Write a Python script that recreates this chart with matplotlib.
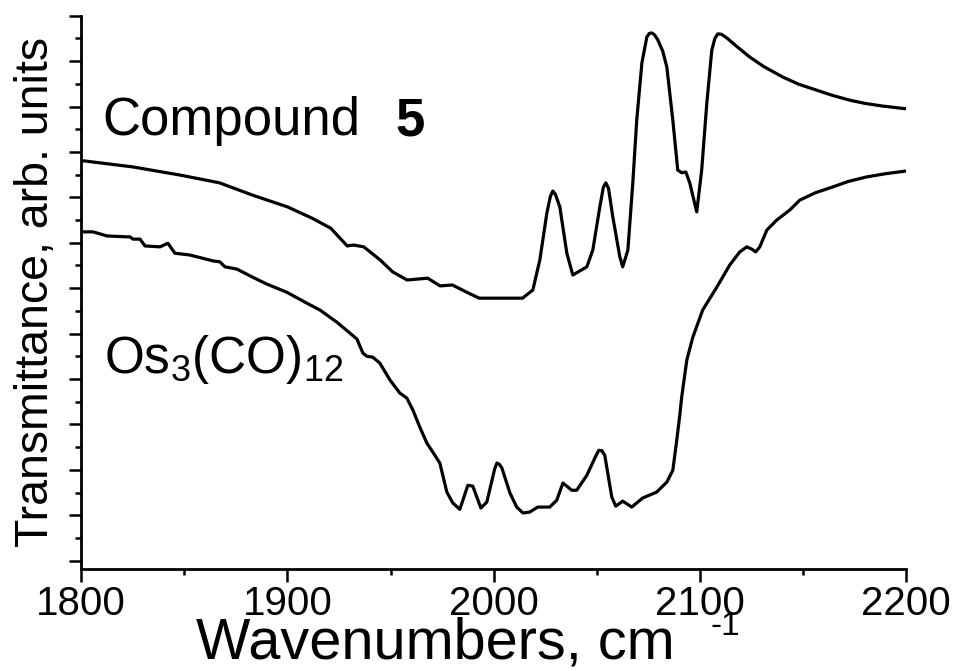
import matplotlib
matplotlib.use("Agg")
import matplotlib.pyplot as plt
from matplotlib.ticker import MultipleLocator

plt.rcParams['font.family'] = 'Liberation Sans'
plt.rcParams['mathtext.fontset'] = 'custom'
plt.rcParams['mathtext.rm'] = 'Liberation Sans'
plt.rcParams['mathtext.it'] = 'Liberation Sans:italic'
plt.rcParams['mathtext.bf'] = 'Liberation Sans:bold'

# IR spectrum of compound 5 (upper trace)
wn_cpd5 = [1800, 1825, 1848, 1867, 1883, 1900, 1912, 1921, 1929, 1932, 1937, 1945,
           1951, 1958, 1968, 1974, 1980, 1987, 1993, 2003, 2014, 2019, 2022.4, 2025.8,
           2027.5, 2028.7, 2030.0, 2032.1, 2035.5, 2038.4, 2041.8, 2045.2, 2048.1,
           2051.5, 2053.2, 2054.4, 2055.7, 2057.8, 2061.2, 2062.6, 2065.1, 2067.5,
           2069.4, 2071.9, 2074.3, 2075.5, 2076.7, 2078.0, 2079.6, 2082.0, 2084.0,
           2086.9, 2089.3, 2091.3, 2093.2, 2095.1, 2098.5, 2100.9, 2103.4, 2105.8,
           2107.3, 2108.7, 2110.5, 2113.1, 2118.0, 2124.2, 2131.0, 2140.2, 2148.0,
           2156.7, 2164.0, 2172.7, 2180.0, 2188.7, 2200]
tr_cpd5 = [8.81, 8.67, 8.49, 8.32, 8.05, 7.79, 7.54, 7.32, 6.93, 6.95, 6.91, 6.62,
           6.36, 6.18, 6.22, 6.05, 6.07, 5.91, 5.78, 5.78, 5.78, 5.96, 6.62, 7.65,
           8.02, 8.14, 8.06, 7.79, 6.77, 6.29, 6.38, 6.47, 6.84,
           7.79, 8.22, 8.32, 8.20, 7.57, 6.69, 6.47, 6.84, 8.32,
           9.70, 10.96, 11.53, 11.61, 11.62, 11.58, 11.47, 11.22, 10.87,
           9.70, 8.60, 8.54, 8.56, 8.32, 7.68, 8.60, 10.08, 11.24,
           11.50, 11.60, 11.59, 11.51, 11.32, 11.09, 10.88, 10.65, 10.49,
           10.36, 10.25, 10.14, 10.07, 10.01, 9.95]

# IR spectrum of Os3(CO)12 (lower trace)
wn_os3 = [1800, 1805.7, 1812.5, 1822.2, 1823.6, 1825.1, 1828.5, 1830.9, 1838.2, 1842.0,
          1845.4, 1852.7, 1863.9, 1867.2, 1869.7, 1875.5, 1883.2, 1890.0, 1899.7, 1909.4,
          1915.7, 1924.0, 1930.3, 1933.7, 1936.6, 1938.5, 1941.4, 1944.8, 1949.7, 1954.5,
          1957.9, 1960.8, 1964.2, 1967.6, 1970.5, 1973.9, 1977.3, 1980.2, 1983.6, 1987.5,
          1989.9, 1993.8, 1996.7, 2000.5, 2001.6, 2002.8, 2004.0, 2007.9, 2011.2, 2014.2,
          2017.5, 2021.4, 2027.2, 2030.6, 2033.6, 2037.9, 2040.3, 2045.2, 2049.5, 2051.0,
          2052.5, 2053.9, 2057.3, 2059.2, 2062.6, 2067.0, 2072.3, 2079.1, 2084.0, 2086.9,
          2088.8, 2090.3, 2091.2, 2093.7, 2096.6, 2101.4, 2108.2, 2114.5, 2119.4, 2122.8,
          2125.2, 2127.1, 2129.1, 2132.5, 2137.3, 2143.6, 2148.5, 2156.0, 2164.5, 2172.0,
          2180.9, 2190.0, 2200]
tr_os3 = [7.24, 7.24, 7.15, 7.13, 7.13, 7.08, 7.08, 6.93, 6.91, 6.99,
          6.77, 6.73, 6.60, 6.58, 6.47, 6.42, 6.24, 6.09, 5.91, 5.67,
          5.52, 5.25, 5.01, 4.88, 4.57, 4.50, 4.48, 4.35, 3.98, 3.69,
          3.58, 3.32, 2.94, 2.59, 2.39, 2.15, 1.51, 1.27, 1.13, 1.66,
          1.64, 1.16, 1.29, 2.02, 2.15, 2.12, 2.04, 1.49, 1.18, 1.05,
          1.07, 1.18, 1.18, 1.33, 1.71, 1.55, 1.55, 1.88, 2.30, 2.43,
          2.42, 2.32, 1.40, 1.20, 1.31, 1.18, 1.38, 1.51, 1.73, 1.99,
          2.65, 3.21, 3.60, 4.42, 4.92, 5.52, 6.02, 6.51, 6.80, 6.91,
          6.86, 6.80, 6.91, 7.28, 7.50, 7.72, 7.94, 8.10, 8.23, 8.35,
          8.45, 8.52, 8.58]

fig = plt.figure(figsize=(9.55, 6.71), dpi=100)
ax = fig.add_axes([0.0851, 0.1516, 0.8636, 0.825])

ax.plot(wn_cpd5, tr_cpd5, color='black', lw=2.3, solid_joinstyle='round')
ax.plot(wn_os3, tr_os3, color='black', lw=2.3, solid_joinstyle='round')

ax.set_xlim(1800, 2200)
ax.set_ylim(-0.19, 12)

for side in ('top', 'right'):
    ax.spines[side].set_visible(False)
for side in ('left', 'bottom'):
    ax.spines[side].set_linewidth(2.0)

ax.xaxis.set_major_locator(MultipleLocator(100))
ax.xaxis.set_minor_locator(MultipleLocator(50))
ax.yaxis.set_major_locator(MultipleLocator(1))
ax.yaxis.set_minor_locator(MultipleLocator(0.5))
ax.tick_params(which='major', direction='out', length=9, width=1.8)
ax.tick_params(which='minor', direction='out', length=4.5, width=1.8)
ax.tick_params(axis='x', which='major', labelsize=29, pad=2)
ax.tick_params(axis='y', which='both', labelleft=False)

ax.set_ylabel('Transmittance, arb. units', fontsize=33.5, labelpad=8)

# x axis title, with the exponent set as a separate raised text
fig.text(196 / 955, 1 - 658 / 671, 'Wavenumbers, cm', fontsize=41.5,
         ha='left', va='baseline')
fig.text(710 / 955, 1 - 635 / 671, '-1', fontsize=24,
         ha='left', va='baseline')

ax.text(1810, 9.37, 'Compound', fontsize=38, va='baseline')
ax.text(1952.5, 9.37, '5', fontsize=38, fontweight='bold', va='baseline')
ax.text(1811, 4.13, 'Os$_3$(CO)$_{12}$', fontsize=37, va='baseline')

fig.savefig('out.png', dpi=100)
